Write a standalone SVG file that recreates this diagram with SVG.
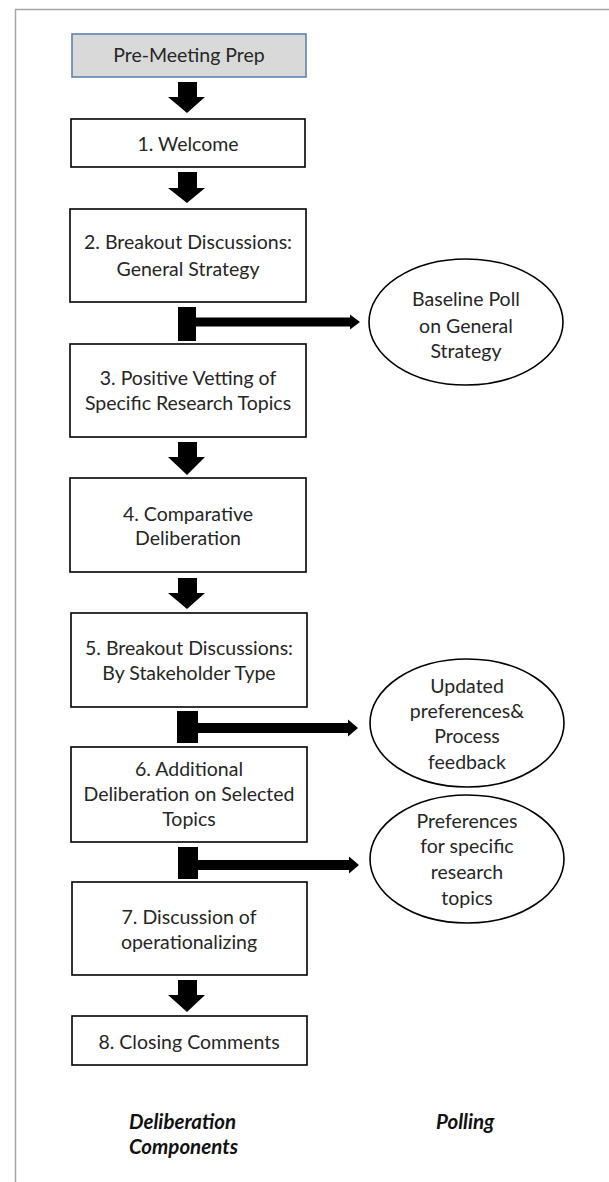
<svg xmlns="http://www.w3.org/2000/svg" width="609" height="1182" viewBox="0 0 609 1182">
<style>
.box{fill:#fff;stroke:#000;stroke-width:1.6}
.prep{fill:#d9d9d9;stroke:#5d82b0;stroke-width:1.6}
.ell{fill:#fff;stroke:#000;stroke-width:1.6}
.t{font-family:Lato,"Liberation Sans",sans-serif;font-size:19.5px;fill:#262626;text-anchor:middle}
.lbl{font-family:Lato,"Liberation Sans",sans-serif;font-size:20.5px;font-weight:bold;font-style:italic;fill:#111}
.arr{fill:#000}
</style>
<rect x="0" y="0" width="609" height="1182" fill="#fff"/>
<path d="M15.5,1182 V9.5 H609" fill="none" stroke="#a6a6a6" stroke-width="1.5"/>

<g id="prep"><rect class="prep" x="72" y="34" width="234" height="43"/><text class="t" x="189" y="62">Pre-Meeting Prep</text></g>
<g id="n1"><rect class="box" x="71" y="119" width="234" height="48"/><text class="t" x="188" y="151">1. Welcome</text></g>
<g id="n2"><rect class="box" x="70" y="209" width="236" height="93"/><text class="t" x="188" y="249">2. Breakout Discussions:</text><text class="t" x="188" y="276">General Strategy</text></g>
<g id="n3"><rect class="box" x="70" y="344" width="236" height="93"/><text class="t" x="188" y="385">3. Positive Vetting of</text><text class="t" x="188" y="410">Specific Research Topics</text></g>
<g id="n4"><rect class="box" x="70" y="478" width="236" height="94"/><text class="t" x="188" y="521">4. Comparative</text><text class="t" x="188" y="545">Deliberation</text></g>
<g id="n5"><rect class="box" x="71" y="613" width="236" height="94"/><text class="t" x="189" y="655">5. Breakout Discussions:</text><text class="t" x="189" y="680">By Stakeholder Type</text></g>
<g id="n6"><rect class="box" x="71" y="747" width="236" height="95"/><text class="t" x="189" y="776">6. Additional</text><text class="t" x="189" y="801">Deliberation on Selected</text><text class="t" x="189" y="826">Topics</text></g>
<g id="n7"><rect class="box" x="72" y="882" width="235" height="93"/><text class="t" x="189" y="924">7. Discussion of</text><text class="t" x="189" y="949">operationalizing</text></g>
<g id="n8"><rect class="box" x="72" y="1016" width="235" height="49"/><text class="t" x="189" y="1049">8. Closing Comments</text></g>

<g id="p1"><ellipse class="ell" cx="466" cy="322" rx="97" ry="63"/><text class="t" x="466" y="306">Baseline Poll</text><text class="t" x="466" y="333">on General</text><text class="t" x="466" y="358">Strategy</text></g>
<g id="p2"><ellipse class="ell" cx="467" cy="723" rx="97" ry="64"/><text class="t" x="467" y="693">Updated</text><text class="t" x="467" y="718">preferences&amp;</text><text class="t" x="467" y="743">Process</text><text class="t" x="467" y="769">feedback</text></g>
<g id="p3"><ellipse class="ell" cx="467" cy="859" rx="97" ry="64"/><text class="t" x="467" y="828">Preferences</text><text class="t" x="467" y="853">for specific</text><text class="t" x="467" y="879">research</text><text class="t" x="467" y="905">topics</text></g>

<g id="connectors" class="arr">
<path d="M178,82 H197 V97 H205 L187,113 L168,97 H178 Z"/>
<path d="M178,172 H197 V188 H205 L187,203 L168,188 H178 Z"/>
<path d="M178,442 H197 V457 H205 L187,475 L168,457 H178 Z"/>
<path d="M178,578 H197 V593 H205 L187,609 L168,593 H178 Z"/>
<path d="M178,980 H197 V995 H205 L187,1012 L168,995 H178 Z"/>
<path d="M178,307 H196 V317.5 H350 V314.5 L360,322 L350,329.5 V326.5 H196 V341 H178 Z"/>
<path d="M177,711 H198 V723 H348 V719.5 L358,728 L348,736.5 V733 H198 V743 H177 Z"/>
<path d="M178,847 H198 V860 H349 V856.5 L359,865 L349,873.5 V870 H198 V879 H178 Z"/>
</g>

<g id="labels">
<text class="lbl" x="129" y="1129">Deliberation</text>
<text class="lbl" x="129" y="1154">Components</text>
<text class="lbl" x="436" y="1129">Polling</text>
</g>
</svg>
